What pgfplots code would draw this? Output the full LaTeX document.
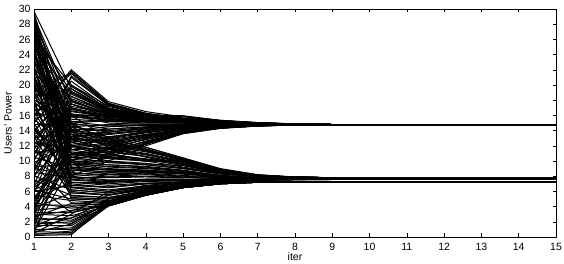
\documentclass[border=0pt]{standalone}
\usepackage{fontspec}
\setmainfont{Liberation Sans}
\usepackage{pgfplots}
\usepackage{pgfplotstable}
\pgfplotsset{compat=1.18}
\pgfplotstableread{
i1 i2 i3 i4 i5 i6 i7 i8 i9 i10 i11 i12 i13 i14 i15
29.7 19.5 16.8 15.8 15.3 15.1 14.95 14.85 14.8 14.8 14.8 14.8 14.8 14.8 14.8
28 18 16 15.5 15.2 15.0 14.9 14.82 14.8 14.8 14.8 14.8 14.8 14.8 14.8
27 17 15.5 15.3 15.1 15.0 14.88 14.82 14.8 14.8 14.8 14.8 14.8 14.8 14.8
26 20 17.2 16 15.5 15.25 15.0 14.86 14.8 14.8 14.8 14.8 14.8 14.8 14.8
25 16 15 14.8 14.9 14.85 14.82 14.8 14.8 14.8 14.8 14.8 14.8 14.8 14.8
24 15 14.2 14.5 14.6 14.7 14.76 14.79 14.8 14.8 14.8 14.8 14.8 14.8 14.8
23 14 13.5 14 14.4 14.6 14.72 14.78 14.8 14.8 14.8 14.8 14.8 14.8 14.8
22 18.5 16.5 15.8 15.4 15.15 14.95 14.84 14.8 14.8 14.8 14.8 14.8 14.8 14.8
21 13 12.5 13.5 14.2 14.5 14.68 14.76 14.8 14.8 14.8 14.8 14.8 14.8 14.8
20 16.5 15.8 15.4 15.2 15.0 14.9 14.82 14.8 14.8 14.8 14.8 14.8 14.8 14.8
19 12 12 13 13.9 14.4 14.65 14.75 14.8 14.8 14.8 14.8 14.8 14.8 14.8
18 15.5 15.2 15.1 15.0 14.92 14.85 14.81 14.8 14.8 14.8 14.8 14.8 14.8 14.8
17 21.5 17.5 16.2 15.6 15.3 15.02 14.87 14.8 14.8 14.8 14.8 14.8 14.8 14.8
16 22 17.8 16.5 15.8 15.35 15.05 14.88 14.8 14.8 14.8 14.8 14.8 14.8 14.8
15 20.5 17 16 15.5 15.2 14.98 14.85 14.8 14.8 14.8 14.8 14.8 14.8 14.8
14 19 16.5 15.7 15.3 15.1 14.95 14.84 14.8 14.8 14.8 14.8 14.8 14.8 14.8
13 18 16.2 15.6 15.3 15.05 14.92 14.83 14.8 14.8 14.8 14.8 14.8 14.8 14.8
12 21 17.3 16.1 15.5 15.2 15.0 14.86 14.8 14.8 14.8 14.8 14.8 14.8 14.8
11 17 16 15.5 15.2 15.05 14.92 14.83 14.8 14.8 14.8 14.8 14.8 14.8 14.8
10 20 16.8 15.9 15.4 15.15 14.98 14.85 14.8 14.8 14.8 14.8 14.8 14.8 14.8
9 14.5 14.8 14.9 14.85 14.82 14.8 14.8 14.8 14.8 14.8 14.8 14.8 14.8 14.8
8 13.5 13.8 14.3 14.5 14.65 14.74 14.78 14.8 14.8 14.8 14.8 14.8 14.8 14.8
7 16 15.6 15.3 15.1 14.95 14.88 14.82 14.8 14.8 14.8 14.8 14.8 14.8 14.8
6 12.5 13 13.8 14.3 14.55 14.7 14.77 14.8 14.8 14.8 14.8 14.8 14.8 14.8
5 11 11.8 13.2 14.1 14.45 14.66 14.75 14.8 14.8 14.8 14.8 14.8 14.8 14.8
4 15 15.3 15.2 15.0 14.92 14.86 14.82 14.8 14.8 14.8 14.8 14.8 14.8 14.8
3 10 11.5 12.5 13.8 14.4 14.65 14.75 14.8 14.8 14.8 14.8 14.8 14.8 14.8
2 14 14.5 14.7 14.75 14.78 14.8 14.8 14.8 14.8 14.8 14.8 14.8 14.8 14.8
1.5 12 12.8 13.5 14.2 14.55 14.7 14.77 14.8 14.8 14.8 14.8 14.8 14.8 14.8
0.8 9.5 11 12.2 13.6 14.3 14.6 14.74 14.8 14.8 14.8 14.8 14.8 14.8 14.8
13.5 16 16 15.95 15.9 15.3 15.0 14.86 14.8 14.8 14.8 14.8 14.8 14.8 14.8
29 17.5 15.8 15.4 15.2 15.0 14.9 14.82 14.8 14.8 14.8 14.8 14.8 14.8 14.8
26.5 14.5 13.8 14.2 14.5 14.65 14.74 14.78 14.8 14.8 14.8 14.8 14.8 14.8 14.8
24.5 13 12.2 13.1 14.0 14.45 14.66 14.75 14.8 14.8 14.8 14.8 14.8 14.8 14.8
18.5 19.5 16.6 15.8 15.4 15.15 14.97 14.85 14.8 14.8 14.8 14.8 14.8 14.8 14.8
15.5 17.5 16.1 16 15.95 15.35 15.05 14.88 14.8 14.8 14.8 14.8 14.8 14.8 14.8
12.5 11.5 12.3 13.3 14.1 14.5 14.7 14.77 14.8 14.8 14.8 14.8 14.8 14.8 14.8
10.5 13.8 14.2 14.5 14.6 14.7 14.76 14.79 14.8 14.8 14.8 14.8 14.8 14.8 14.8
8.5 18.5 16.3 15.6 15.25 15.05 14.92 14.83 14.8 14.8 14.8 14.8 14.8 14.8 14.8
4.5 12.8 13.5 14.0 14.4 14.6 14.72 14.78 14.8 14.8 14.8 14.8 14.8 14.8 14.8
28.8 16.2 15.2 15.0 15.05 14.95 14.87 14.82 14.8 14.8 14.8 14.8 14.8 14.8 14.8
27.8 15.2 14.6 14.7 14.8 14.8 14.8 14.8 14.8 14.8 14.8 14.8 14.8 14.8 14.8
26.8 19 16.8 15.9 15.45 15.2 14.98 14.85 14.8 14.8 14.8 14.8 14.8 14.8 14.8
25.8 13.8 13.2 13.8 14.3 14.55 14.7 14.77 14.8 14.8 14.8 14.8 14.8 14.8 14.8
24.8 17.8 16.3 15.7 15.35 15.1 14.93 14.83 14.8 14.8 14.8 14.8 14.8 14.8 14.8
23.8 12.8 12.6 13.4 14.1 14.5 14.68 14.76 14.8 14.8 14.8 14.8 14.8 14.8 14.8
22.8 16.8 15.9 15.6 15.3 15.08 14.93 14.84 14.8 14.8 14.8 14.8 14.8 14.8 14.8
21.8 15.8 15.4 15.2 15.1 14.98 14.88 14.82 14.8 14.8 14.8 14.8 14.8 14.8 14.8
20.8 14.2 14 14.4 14.6 14.7 14.76 14.79 14.8 14.8 14.8 14.8 14.8 14.8 14.8
19.8 11.5 11.7 12.8 13.8 14.35 14.63 14.75 14.8 14.8 14.8 14.8 14.8 14.8 14.8
18.8 18.2 16.4 15.75 15.4 15.15 14.96 14.84 14.8 14.8 14.8 14.8 14.8 14.8 14.8
17.8 13.2 13.1 13.9 14.3 14.55 14.7 14.77 14.8 14.8 14.8 14.8 14.8 14.8 14.8
16.8 16.6 15.9 15.5 15.25 15.05 14.92 14.83 14.8 14.8 14.8 14.8 14.8 14.8 14.8
15.8 21.8 17.6 16.3 15.65 15.3 15.03 14.87 14.8 14.8 14.8 14.8 14.8 14.8 14.8
14.8 14.8 14.6 14.7 14.7 14.75 14.78 14.8 14.8 14.8 14.8 14.8 14.8 14.8 14.8
13.8 19.8 16.9 15.95 15.45 15.18 14.98 14.85 14.8 14.8 14.8 14.8 14.8 14.8 14.8
12.8 17.2 16.2 15.65 15.35 15.12 14.95 14.84 14.8 14.8 14.8 14.8 14.8 14.8 14.8
11.8 15.8 15.5 15.3 15.15 15.0 14.9 14.82 14.8 14.8 14.8 14.8 14.8 14.8 14.8
10.8 21.2 17.4 16.2 15.6 15.25 15.02 14.86 14.8 14.8 14.8 14.8 14.8 14.8 14.8
9.8 12.2 12.9 13.7 14.3 14.55 14.7 14.77 14.8 14.8 14.8 14.8 14.8 14.8 14.8
8.8 16.8 15.9 15.5 15.2 15.03 14.9 14.82 14.8 14.8 14.8 14.8 14.8 14.8 14.8
7.8 19.2 16.7 15.85 15.4 15.12 14.96 14.84 14.8 14.8 14.8 14.8 14.8 14.8 14.8
6.8 10.8 11.6 12.9 13.9 14.4 14.65 14.75 14.8 14.8 14.8 14.8 14.8 14.8 14.8
5.8 17.5 16.1 15.6 15.3 15.08 14.93 14.83 14.8 14.8 14.8 14.8 14.8 14.8 14.8
4.8 13.2 13.6 14.1 14.45 14.62 14.72 14.78 14.8 14.8 14.8 14.8 14.8 14.8 14.8
3.8 11.8 12.4 13.3 14.1 14.5 14.68 14.76 14.8 14.8 14.8 14.8 14.8 14.8 14.8
2.8 16.2 15.7 15.4 15.2 15.02 14.9 14.82 14.8 14.8 14.8 14.8 14.8 14.8 14.8
1.8 10.5 11.2 12.6 13.7 14.35 14.62 14.74 14.8 14.8 14.8 14.8 14.8 14.8 14.8
0.5 13.2 13.8 14.3 14.55 14.68 14.75 14.79 14.8 14.8 14.8 14.8 14.8 14.8 14.8
16.2 16.0 16.1 16.0 15.9 15.3 15.0 14.86 14.8 14.8 14.8 14.8 14.8 14.8 14.8
22.5 9 10.5 12.2 13.7 14.35 14.62 14.75 14.8 14.8 14.8 14.8 14.8 14.8 14.8
17.5 8 10 12 13.6 14.3 14.6 14.74 14.8 14.8 14.8 14.8 14.8 14.8 14.8
27.5 11 11.2 12.6 13.8 14.4 14.65 14.75 14.8 14.8 14.8 14.8 14.8 14.8 14.8
14.2 10.2 11 12.4 13.7 14.35 14.62 14.75 14.8 14.8 14.8 14.8 14.8 14.8 14.8
6.2 8.5 10.8 12.3 13.7 14.35 14.62 14.75 14.8 14.8 14.8 14.8 14.8 14.8 14.8
25.2 18.8 16.6 15.8 15.4 15.12 14.96 14.84 14.8 14.8 14.8 14.8 14.8 14.8 14.8
19.2 21.6 17.5 16.2 15.6 15.25 15.02 14.86 14.8 14.8 14.8 14.8 14.8 14.8 14.8
3.2 19.5 16.6 15.9 15.45 15.15 14.97 14.85 14.8 14.8 14.8 14.8 14.8 14.8 14.8
12.2 15.2 15.3 15.2 15.05 14.95 14.87 14.82 14.8 14.8 14.8 14.8 14.8 14.8 14.8
9.2 17.8 16.2 15.7 15.3 15.1 14.94 14.83 14.8 14.8 14.8 14.8 14.8 14.8 14.8
29.5 13 11 10 9.2 8.4 8.0 7.85 7.8 7.8 7.8 7.8 7.8 7.8 7.8
28.5 11 10 9.5 9 8.3 7.95 7.82 7.8 7.8 7.8 7.8 7.8 7.8 7.8
27.5 12 10.5 10 10 8.8 8.1 7.88 7.8 7.8 7.8 7.8 7.8 7.8 7.8
26 9 8.5 8.6 8.3 7.9 7.72 7.67 7.65 7.65 7.65 7.65 7.65 7.65 7.65
25.5 10 9.5 9.3 8.8 8.1 7.8 7.7 7.65 7.65 7.65 7.65 7.65 7.65 7.65
23.5 8 7.5 7.6 7.6 7.5 7.4 7.33 7.3 7.3 7.3 7.3 7.3 7.3 7.3
22.5 7 6.5 7 7.2 7.25 7.28 7.3 7.3 7.3 7.3 7.3 7.3 7.3 7.3
21.5 6 5.5 6.2 6.9 7.15 7.25 7.28 7.3 7.3 7.3 7.3 7.3 7.3 7.3
20.5 12.5 11.5 10.8 9.8 8.7 8.05 7.86 7.8 7.8 7.8 7.8 7.8 7.8 7.8
19.5 9.5 9 8.8 8.5 8.0 7.75 7.68 7.65 7.65 7.65 7.65 7.65 7.65 7.65
18 5 5 5.8 6.7 7.1 7.23 7.28 7.3 7.3 7.3 7.3 7.3 7.3 7.3
16.5 8.5 8 8.2 7.9 7.6 7.45 7.35 7.3 7.3 7.3 7.3 7.3 7.3 7.3
15.5 11.5 11.8 10.5 9.5 8.5 8.0 7.85 7.8 7.8 7.8 7.8 7.8 7.8 7.8
14.5 7.5 7.2 7.4 7.4 7.35 7.32 7.3 7.3 7.3 7.3 7.3 7.3 7.3 7.3
12.5 10.5 10.3 10 10 8.7 8.05 7.86 7.8 7.8 7.8 7.8 7.8 7.8 7.8
11.5 6.5 6 6.6 7.0 7.2 7.27 7.3 7.3 7.3 7.3 7.3 7.3 7.3 7.3
10.5 9 8.8 8.7 8.4 7.95 7.74 7.67 7.65 7.65 7.65 7.65 7.65 7.65 7.65
9.5 4.5 4.2 5.5 6.5 7.0 7.2 7.27 7.3 7.3 7.3 7.3 7.3 7.3 7.3
8.5 7.8 7.8 7.9 7.8 7.7 7.67 7.65 7.65 7.65 7.65 7.65 7.65 7.65 7.65
7.5 5.5 5.2 6 6.8 7.1 7.24 7.28 7.3 7.3 7.3 7.3 7.3 7.3 7.3
6.5 10 9.8 9.5 9 8.3 7.95 7.83 7.8 7.8 7.8 7.8 7.8 7.8 7.8
5.5 4.8 4.5 5.8 6.6 7.05 7.22 7.28 7.3 7.3 7.3 7.3 7.3 7.3 7.3
4.5 3.8 4.2 5.6 6.5 7.0 7.2 7.27 7.3 7.3 7.3 7.3 7.3 7.3 7.3
3.5 4 4.5 5.9 6.7 7.1 7.24 7.28 7.3 7.3 7.3 7.3 7.3 7.3 7.3
3 2.8 4.1 5.5 6.5 7.0 7.2 7.27 7.3 7.3 7.3 7.3 7.3 7.3 7.3
2.5 2.2 4.3 5.7 6.6 7.55 7.62 7.65 7.65 7.65 7.65 7.65 7.65 7.65 7.65
2 1.8 4.1 5.5 6.6 7.05 7.22 7.28 7.3 7.3 7.3 7.3 7.3 7.3 7.3
1.5 1.5 4.2 5.6 6.6 7.5 7.6 7.64 7.65 7.65 7.65 7.65 7.65 7.65 7.65
1 1 4.1 5.5 6.5 7.0 7.2 7.27 7.3 7.3 7.3 7.3 7.3 7.3 7.3
0.7 0.6 4.3 5.7 6.8 7.6 7.75 7.78 7.8 7.8 7.8 7.8 7.8 7.8 7.8
0.4 0.4 4.1 5.5 6.5 7.0 7.2 7.27 7.3 7.3 7.3 7.3 7.3 7.3 7.3
0.2 0.3 4.5 6 6.9 7.5 7.6 7.64 7.65 7.65 7.65 7.65 7.65 7.65 7.65
1.2 2.5 5 6.2 7 7.2 7.26 7.29 7.3 7.3 7.3 7.3 7.3 7.3 7.3
0.5 3 6 6.8 7.2 7.6 7.7 7.76 7.8 7.8 7.8 7.8 7.8 7.8 7.8
13 14 12 11.2 10.2 8.9 8.15 7.88 7.8 7.8 7.8 7.8 7.8 7.8 7.8
17.5 15 12.5 11.5 10 8.8 8.1 7.87 7.8 7.8 7.8 7.8 7.8 7.8 7.8
2.8 3.5 4.2 5.5 6.5 7.0 7.2 7.27 7.3 7.3 7.3 7.3 7.3 7.3 7.3
6 6.8 6.5 7 7.3 7.5 7.6 7.64 7.65 7.65 7.65 7.65 7.65 7.65 7.65
9 8.2 8.6 8.5 8.3 7.9 7.72 7.67 7.65 7.65 7.65 7.65 7.65 7.65 7.65
21 11 10.8 10.2 10 8.6 8.0 7.84 7.8 7.8 7.8 7.8 7.8 7.8 7.8
24 13.5 11.2 10.6 9.6 8.6 8.0 7.84 7.8 7.8 7.8 7.8 7.8 7.8 7.8
16 6.2 5.8 6.5 7.0 7.2 7.26 7.29 7.3 7.3 7.3 7.3 7.3 7.3 7.3
11 12 11 10.2 9.4 8.4 7.95 7.82 7.8 7.8 7.8 7.8 7.8 7.8 7.8
7 3.2 4.4 5.8 6.7 7.1 7.23 7.28 7.3 7.3 7.3 7.3 7.3 7.3 7.3
4 9.8 9.5 9.2 8.7 8.1 7.8 7.7 7.65 7.65 7.65 7.65 7.65 7.65 7.65
29.2 10.5 9.8 9.6 9.4 8.5 8.0 7.84 7.8 7.8 7.8 7.8 7.8 7.8 7.8
28.2 8.8 8.3 8.4 8.1 7.85 7.72 7.67 7.65 7.65 7.65 7.65 7.65 7.65 7.65
27.2 7.2 6.8 7.1 7.2 7.25 7.28 7.3 7.3 7.3 7.3 7.3 7.3 7.3 7.3
26.5 11.5 10.6 10.2 9.6 8.6 8.0 7.85 7.8 7.8 7.8 7.8 7.8 7.8 7.8
25 6.5 6 6.6 7.0 7.2 7.26 7.29 7.3 7.3 7.3 7.3 7.3 7.3 7.3
24.2 9.8 9.2 9.0 8.6 8.05 7.78 7.69 7.65 7.65 7.65 7.65 7.65 7.65 7.65
23 12 11.3 10.6 9.7 8.6 8.02 7.85 7.8 7.8 7.8 7.8 7.8 7.8 7.8
22 8.2 7.9 8.0 7.85 7.7 7.67 7.65 7.65 7.65 7.65 7.65 7.65 7.65 7.65
21.2 5.2 5.0 5.9 6.75 7.1 7.23 7.28 7.3 7.3 7.3 7.3 7.3 7.3 7.3
20 10.8 10.4 10 10 8.7 8.05 7.86 7.8 7.8 7.8 7.8 7.8 7.8 7.8
19 7.6 7.3 7.5 7.5 7.4 7.33 7.3 7.3 7.3 7.3 7.3 7.3 7.3 7.3
18.5 12.8 11.6 10.9 9.9 8.7 8.06 7.86 7.8 7.8 7.8 7.8 7.8 7.8 7.8
17 9.2 8.9 8.8 8.5 8.0 7.75 7.68 7.65 7.65 7.65 7.65 7.65 7.65 7.65
15 6.8 6.6 7.0 7.2 7.25 7.28 7.3 7.3 7.3 7.3 7.3 7.3 7.3 7.3
14 10.2 10 9.7 9.1 8.3 7.95 7.82 7.8 7.8 7.8 7.8 7.8 7.8 7.8
13.5 8.4 8.2 8.3 8.0 7.8 7.7 7.66 7.65 7.65 7.65 7.65 7.65 7.65 7.65
12 5.8 5.6 6.3 6.9 7.15 7.25 7.28 7.3 7.3 7.3 7.3 7.3 7.3 7.3
11.2 11.2 10.8 10.3 9.6 8.5 8.0 7.84 7.8 7.8 7.8 7.8 7.8 7.8 7.8
10 7.2 7.0 7.3 7.4 7.35 7.32 7.3 7.3 7.3 7.3 7.3 7.3 7.3 7.3
9.2 9.6 9.3 9.1 8.7 8.1 7.8 7.7 7.65 7.65 7.65 7.65 7.65 7.65 7.65
8 6.2 5.8 6.4 7.0 7.2 7.26 7.29 7.3 7.3 7.3 7.3 7.3 7.3 7.3
7.2 8.8 8.6 8.6 8.3 7.9 7.72 7.67 7.65 7.65 7.65 7.65 7.65 7.65 7.65
6.2 5 4.8 5.9 6.7 7.1 7.23 7.28 7.3 7.3 7.3 7.3 7.3 7.3 7.3
5.2 11 10.5 10 10 8.7 8.05 7.86 7.8 7.8 7.8 7.8 7.8 7.8 7.8
4.2 4.2 4.3 5.7 6.6 7.05 7.22 7.28 7.3 7.3 7.3 7.3 7.3 7.3 7.3
3.2 3.2 4.2 5.6 6.5 7.0 7.2 7.27 7.3 7.3 7.3 7.3 7.3 7.3 7.3
2.2 2.5 4.1 5.5 6.5 7.0 7.2 7.27 7.3 7.3 7.3 7.3 7.3 7.3 7.3
1.7 2 4.4 5.8 6.8 7.5 7.62 7.65 7.65 7.65 7.65 7.65 7.65 7.65 7.65
0.9 1.2 4.2 5.6 6.6 7.05 7.22 7.28 7.3 7.3 7.3 7.3 7.3 7.3 7.3
0.3 0.8 4.1 5.5 6.5 7.0 7.2 7.27 7.3 7.3 7.3 7.3 7.3 7.3 7.3
0.6 1.7 4.6 6 6.9 7.55 7.7 7.77 7.8 7.8 7.8 7.8 7.8 7.8 7.8
1.4 3.4 5.5 6.5 7.1 7.55 7.7 7.77 7.8 7.8 7.8 7.8 7.8 7.8 7.8
2.6 4.4 4.7 6.0 6.8 7.1 7.24 7.28 7.3 7.3 7.3 7.3 7.3 7.3 7.3
3.8 5.8 5.5 6.3 7.0 7.2 7.26 7.29 7.3 7.3 7.3 7.3 7.3 7.3 7.3
19.8 14.5 12.2 11.3 10.1 8.8 8.1 7.87 7.8 7.8 7.8 7.8 7.8 7.8 7.8
27 13.8 11.8 11 10 8.8 8.1 7.87 7.8 7.8 7.8 7.8 7.8 7.8 7.8
25.8 14.2 12.6 11.6 10.3 8.9 8.15 7.88 7.8 7.8 7.8 7.8 7.8 7.8 7.8
28 14.8 12.8 11.8 10.4 9.0 8.2 7.9 7.8 7.8 7.8 7.8 7.8 7.8 7.8
16.8 13.2 12.2 11.4 10.1 8.8 8.1 7.87 7.8 7.8 7.8 7.8 7.8 7.8 7.8
11.8 13.5 12.5 11.5 10.2 8.85 8.1 7.87 7.8 7.8 7.8 7.8 7.8 7.8 7.8
23.2 16 13 11.8 10.4 8.9 8.15 7.88 7.8 7.8 7.8 7.8 7.8 7.8 7.8
20.2 9.2 8.8 8.7 8.4 7.95 7.74 7.67 7.65 7.65 7.65 7.65 7.65 7.65 7.65
26.2 7.8 7.4 7.6 7.6 7.5 7.4 7.33 7.3 7.3 7.3 7.3 7.3 7.3 7.3
13.2 5.4 5.2 6.1 6.8 7.1 7.24 7.28 7.3 7.3 7.3 7.3 7.3 7.3 7.3
29 6.6 6.2 6.7 7.1 7.2 7.27 7.3 7.3 7.3 7.3 7.3 7.3 7.3 7.3
5 7.2 7.2 7.4 7.5 7.4 7.33 7.3 7.3 7.3 7.3 7.3 7.3 7.3 7.3
}\raw
\pgfplotstabletranspose\data\raw
\pgfplotstablegetrowsof{\raw}
\edef\N{\pgfplotsretval}
\begin{document}
\begin{tikzpicture}
\begin{axis}[
  name=ax,
  scale only axis,
  width=522pt, height=228pt,
  xmin=1, xmax=15, ymin=0, ymax=30,
  xtick={1,...,15}, ytick={0,2,...,30},
  tick align=inside, tick pos=both,
  major tick length=3.5pt,
  /pgf/number format/assume math mode=true,
  ticklabel style={font=\fontsize{10.5}{12}\selectfont},
  label style={font=\fontsize{10.5}{12}\selectfont},
  xlabel={iter}, ylabel={Users' Power},
  xticklabel style={yshift=-2.5pt},
  xlabel style={at={(axis description cs:0.5,-0.0877)}, anchor=center},
  ylabel style={at={(axis description cs:-0.0498,0.5)}, anchor=center},
  axis line style={line width=0.8pt},
  every tick/.style={black, line width=0.5pt},
  clip=true,
]
\pgfplotsinvokeforeach{1,...,\N}{
  \addplot[black, line width=1pt, no markers] table[x expr=\coordindex+1, y index=#1]{\data};
}
\end{axis}
\pgfresetboundingbox
\path[use as bounding box] ([xshift=-34pt,yshift=-27pt]ax.south west) rectangle ([xshift=8pt,yshift=9pt]ax.north east);
\end{tikzpicture}
\end{document}
